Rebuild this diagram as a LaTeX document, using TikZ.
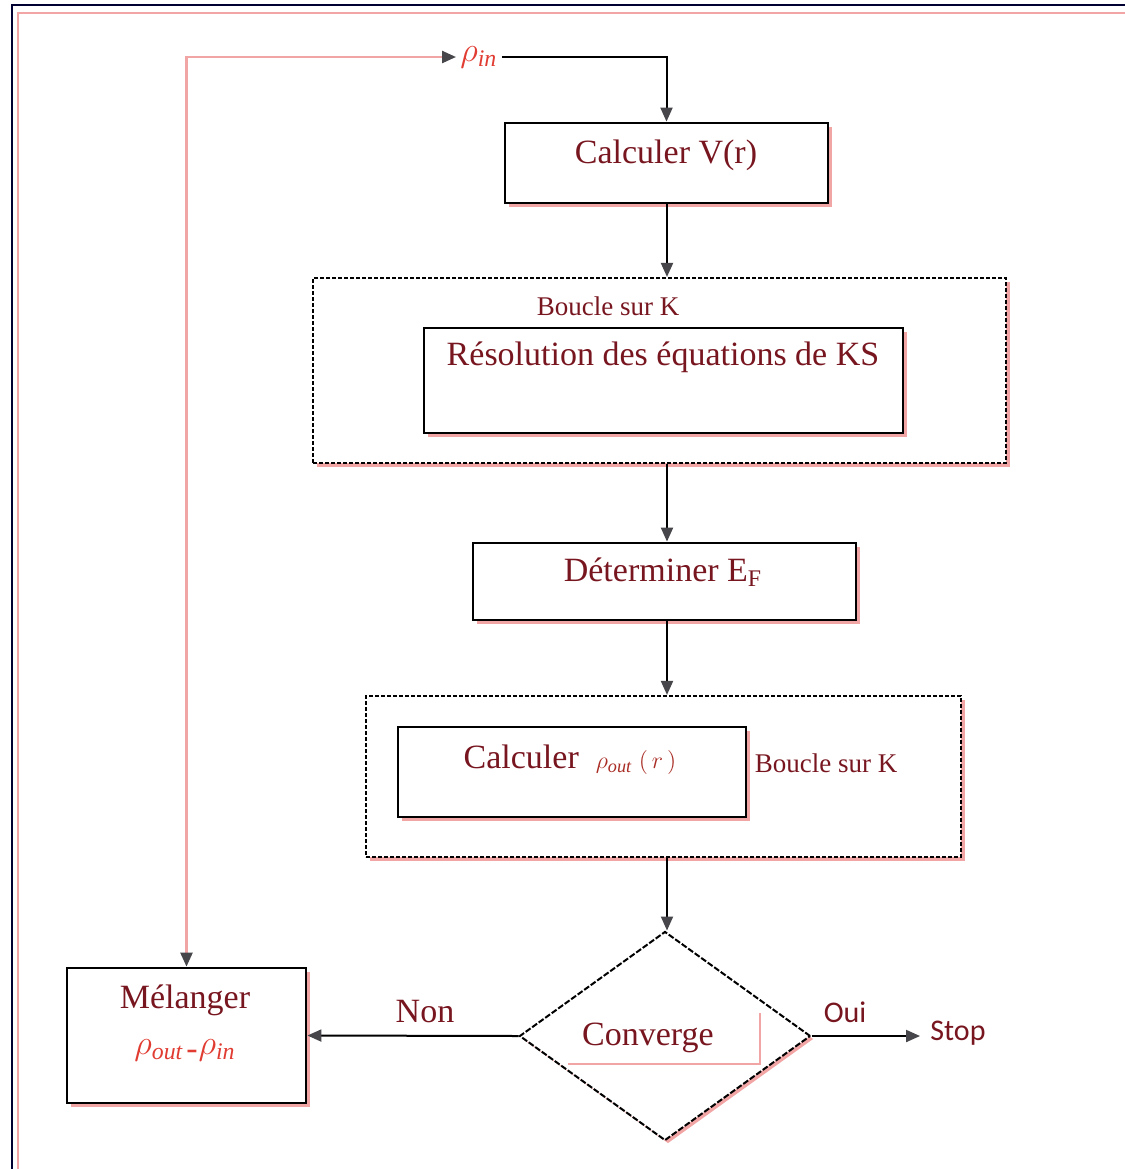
\documentclass[tikz,border=0pt]{standalone}
\usepackage{fontspec}
\setmainfont{Liberation Serif}
\newfontfamily\calfont{Carlito}
\usetikzlibrary{shapes.geometric,arrows.meta,shadows}
\definecolor{txt}{RGB}{120,22,32}
\definecolor{rhoc}{RGB}{225,60,50}
\definecolor{shad}{RGB}{242,165,165}
\definecolor{tipc}{RGB}{70,70,75}
\begin{document}
\begin{tikzpicture}[x=0.5pt,y=-0.5pt,
  box/.style={draw=black, line width=1.4pt, fill=white, inner sep=0pt,
    drop shadow={shadow xshift=2pt,shadow yshift=-2pt,fill=shad,opacity=1}},
  loopbox/.style={draw=black, line width=1.1pt, dash pattern=on 2pt off 1pt, fill=white, inner sep=0pt,
    drop shadow={shadow xshift=2pt,shadow yshift=-2pt,fill=shad,opacity=1}},
  decision/.style={diamond, draw=black, line width=1pt, dash pattern=on 3pt off 1pt, fill=white, inner sep=0pt,
    drop shadow={shadow xshift=1.5pt,shadow yshift=-1.5pt,fill=shad,opacity=1}},
  lbl/.style={text=txt, font=\fontsize{17}{20}\selectfont, inner sep=0pt},
  smalllbl/.style={text=txt, font=\fontsize{13.5}{16}\selectfont, inner sep=0pt},
  sanslbl/.style={text=txt, font=\calfont\fontsize{15}{18}\selectfont, inner sep=0pt},
  conn/.style={draw=black, line width=1pt, -{Triangle[length=7pt,width=6pt,color=tipc]}},
  fb/.style={draw=shad, line width=1.2pt, {Triangle[length=7pt,width=6pt,color=tipc]}-{Triangle[length=7pt,width=6pt,color=tipc]}},
]
\useasboundingbox (0,0) rectangle (1125,1169);
\fill[white] (0,0) rectangle (1125,1169);
% frame
\draw[line width=1.2pt, black!80!blue] (12,1169) -- (12,5) -- (1125,5);
\draw[line width=0.8pt, shad] (18,1169) -- (18,13) -- (1125,13);

\coordinate (ax) at (667,0);

% boxes
\node[box, minimum width=161.5pt, minimum height=40pt] (vbox) at (666.5,163) {};
\node[lbl] (vtxt) at (666,155) {Calculer V(r)};

\node[loopbox, minimum width=346.5pt, minimum height=92.5pt] (loop1) at (659.5,370.5) {};
\node[smalllbl] (loop1txt) at (608,306) {Boucle sur K};
\node[box, minimum width=239.5pt, minimum height=52.5pt] (ksbox) at (663.5,380.5) {};
\node[lbl] (kstxt) at (663,357) {Résolution des équations de KS};

\node[box, minimum width=191.5pt, minimum height=38.5pt] (efbox) at (664.5,581.5) {};
\node[lbl] (eftxt) at (663,572) {Déterminer E\textsubscript{F}};

\node[loopbox, minimum width=297.5pt, minimum height=80.5pt] (loop2) at (663.5,776.5) {};
\node[box, minimum width=174pt, minimum height=45pt] (rhobox) at (572,772) {};
\node[lbl] (rhotxt) at (570,760) {Calculer~~{\color{rhoc!75!black}\fontsize{13}{15}\selectfont$\rho_{\mathit{out}}\;(\,r\,)$}};
\node[smalllbl] (loop2txt) at (826,763) {Boucle sur K};

\node[decision, minimum width=145.5pt, minimum height=104.5pt] (dia) at (665,1036) {};
\node[lbl] (diatxt) at (648,1038) {Converge};
\draw[shad, line width=1pt] (760,1013) -- (760,1064) -- (568,1064);

\node[box, minimum width=119.5pt, minimum height=67.5pt] (mel) at (186.5,1035.5) {};
\node[lbl] (meltxt) at (185,1000) {Mélanger};
\node[lbl, text=rhoc] (melrho) at (185,1050) {$\rho_{\mathit{out}\,\textrm{-}}\rho_{\mathit{in}}$};

\node[lbl, text=rhoc, anchor=west] (rhoin) at (460,57) {$\rho_{\mathit{in}}$};
\node[sanslbl] (stop) at (958,1033) {Stop};
\node[lbl] (non) at (425,1012) {Non};
\node[sanslbl] (oui) at (845,1012) {Oui};

% connectors
\draw[conn] ([xshift=2pt]rhoin.east) -| (vbox.north);
\draw[conn] (ax |- vbox.south) -- (ax |- loop1.north);
\draw[conn] (ax |- loop1.south) -- (ax |- efbox.north);
\draw[conn] (ax |- efbox.south) -- (ax |- loop2.north);
\draw[conn] (ax |- loop2.south) -- (ax |- dia.north);
\draw[conn] (dia.west) -- (mel.east);
\draw[conn, shorten >=5pt] (dia.east) -- (dia.east -| stop.west);
\draw[fb, shorten >=2pt] (mel.north) |- (rhoin.west);
\end{tikzpicture}
\end{document}
